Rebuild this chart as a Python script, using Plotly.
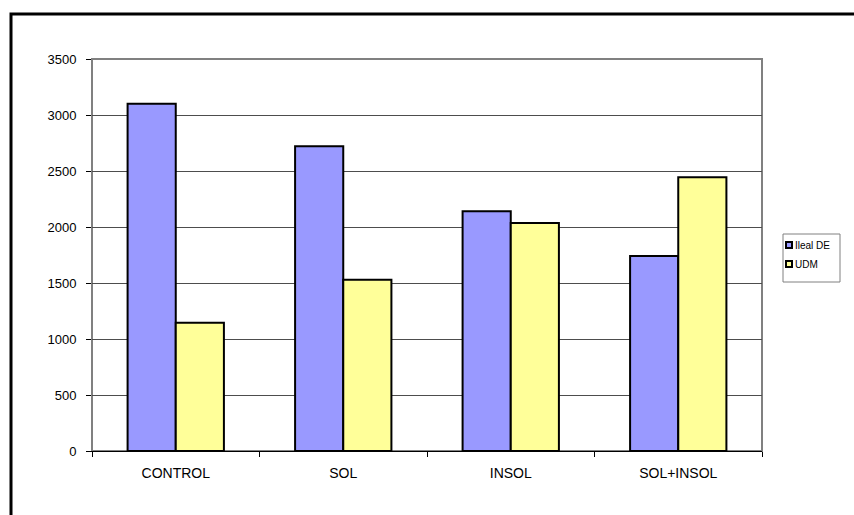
import plotly.graph_objects as go

categories = ["CONTROL", "SOL", "INSOL", "SOL+INSOL"]
ileal_de = [3100, 2720, 2140, 1740]
udm = [1145, 1530, 2035, 2445]
y_ticks = [0, 500, 1000, 1500, 2000, 2500, 3000, 3500]
series_names = ["Ileal DE", "UDM"]
series_colors = ["#9999FF", "#FFFF99"]

fig = go.Figure()
for name, vals, col in zip(series_names, [ileal_de, udm], series_colors):
    fig.add_trace(go.Bar(
        x=categories, y=vals, name=name,
        marker=dict(color=col, line=dict(color="#000000", width=2)),
    ))

W, H = 854, 515
L, R, T, B = 92, 92, 59, 64
PW, PH = W - L - R, H - T - B


def px(xp):
    return (xp - L) / PW


def py(yp):
    return (H - B - yp) / PH


# outer chart frame (runs past the page edge on the right and bottom)
fig.add_shape(type="rect", xref="paper", yref="paper",
              x0=px(11), x1=px(870), y0=py(540), y1=py(14),
              line=dict(color="#000000", width=3), fillcolor="rgba(0,0,0,0)",
              layer="above")
# plot area border
fig.add_shape(type="rect", xref="paper", yref="paper",
              x0=0, x1=1, y0=0, y1=1,
              line=dict(color="#808080", width=2), fillcolor="rgba(0,0,0,0)",
              layer="below")

# legend box
fig.add_shape(type="rect", xref="paper", yref="paper",
              x0=px(783), x1=px(840), y0=py(282), y1=py(234),
              line=dict(color="#808080", width=1), fillcolor="white")
for i, (name, col) in enumerate(zip(series_names, series_colors)):
    cy = 245 + i * 19
    fig.add_shape(type="rect", xref="paper", yref="paper",
                  x0=px(786), x1=px(792), y0=py(cy + 3), y1=py(cy - 3),
                  line=dict(color="#000000", width=2), fillcolor=col)
    fig.add_annotation(x=px(793), y=py(cy), xref="paper", yref="paper",
                       text=name, showarrow=False, xanchor="left",
                       yanchor="middle", font=dict(size=10, color="#000000"))

fig.update_layout(
    width=W, height=H,
    margin=dict(l=L, r=R, t=T, b=B, pad=0, autoexpand=False),
    paper_bgcolor="white", plot_bgcolor="white",
    barmode="group", bargap=0.425, bargroupgap=0,
    font=dict(family="Liberation Sans, Arial, sans-serif", color="#000000"),
    showlegend=False,
)
fig.update_xaxes(
    showline=True, linecolor="#000000", linewidth=1,
    ticks="outside", tickson="boundaries", ticklen=5, tickcolor="#000000",
    tickfont=dict(size=14), ticklabelstandoff=9, showgrid=False,
)
fig.update_yaxes(
    range=[0, 3500], tickvals=y_ticks,
    showline=True, linecolor="#808080", linewidth=1,
    ticks="outside", ticklen=5, tickcolor="#000000",
    tickfont=dict(size=13), ticklabelstandoff=7,
    showgrid=True, gridcolor="#4d4d4d", gridwidth=1,
    zeroline=False,
)

fig.write_html("out.html")
